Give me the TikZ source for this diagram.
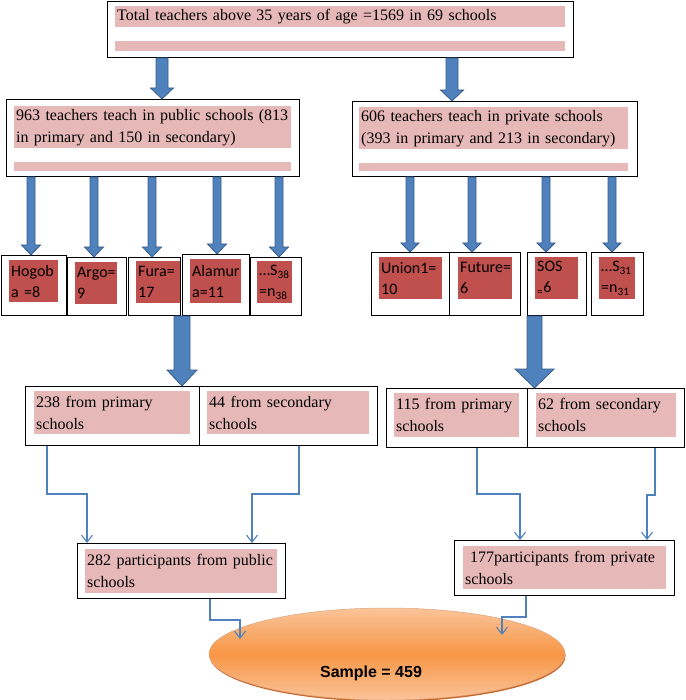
\documentclass[tikz,border=0pt]{standalone}
\usepackage{fontspec}
\setmainfont{Liberation Serif}
\newfontfamily\calibrifont{Carlito}
\newfontfamily\arialfont{Liberation Sans}
\usetikzlibrary{arrows.meta,calc,shapes.geometric,shadows}
\hyphenpenalty=10000
\exhyphenpenalty=10000

\definecolor{pinkfill}{HTML}{E6B8B7}
\definecolor{redfill}{HTML}{C0504D}
\definecolor{arrowblue}{HTML}{4F81BD}
\definecolor{arrowedge}{HTML}{385D8A}
\definecolor{lineblue}{HTML}{4F81BD}
\definecolor{ovallight}{HTML}{FAC49A}
\definecolor{ovalmid}{HTML}{F79646}
\definecolor{ovaledge}{HTML}{C8692A}

\tikzset{
  wh/.code 2 args={\pgfmathsetlengthmacro\whtw{#1pt-4pt}\pgfkeysalso{text width=\whtw,minimum height=#2pt}},
  outerbox/.style 2 args={draw=black,line width=1pt,fill=white,anchor=north west,inner sep=0pt,
    minimum width=#1pt,minimum height=#2pt},
  pinkbar/.style={fill=pinkfill,anchor=north west,align=left,inner xsep=2pt,inner ysep=0pt,
    font=\fontsize{16}{22}\selectfont},
  redbar/.style={fill=redfill,anchor=north west,align=left,inner xsep=2pt,inner ysep=0pt,
    font=\calibrifont\fontsize{16}{21}\selectfont},
  blockarrow/.style n args={3}{draw=arrowedge,fill=arrowblue,line width=0.8pt,line join=miter,
    to path={let \p1=(\tikztostart),\p2=(\tikztotarget) in
      (\x1-#1,\y1) -- (\x1-#1,\y2+#3) -- (\x1-#2,\y2+#3) -- (\x1,\y2)
      -- (\x1+#2,\y2+#3) -- (\x1+#1,\y2+#3) -- (\x1+#1,\y1) -- cycle}},
  thinarrow/.style={draw=lineblue,line width=1.1pt,-{Straight Barb[length=7pt,width=11pt]}},
}

\begin{document}
\begin{tikzpicture}[x=1pt,y=-1pt]
  \useasboundingbox (0,0) rectangle (685,700);

  % x positions of the block arrows
  \coordinate (a1) at (162,0);
  \coordinate (a2) at (452,0);
  \coordinate (c1) at (31,0);
  \coordinate (c2) at (94,0);
  \coordinate (c3) at (152,0);
  \coordinate (c4) at (217,0);
  \coordinate (c5) at (279,0);
  \coordinate (d1) at (410,0);
  \coordinate (d2) at (472,0);
  \coordinate (d3) at (546,0);
  \coordinate (d4) at (612,0);
  \coordinate (b1) at (182,0);
  \coordinate (b2) at (534.5,0);

  % all teachers
  \node[outerbox={466}{56}] (total) at (107,1) {};
  \node[pinkbar,wh={450}{21}] (totalbar) at (115,6) {Total teachers above 35 years of age =1569 in 69 schools};
  \node[pinkbar,wh={450}{10}] (totalstrip) at (115,41) {};

  % public and private
  \node[outerbox={293}{77}] (pub) at (6,99) {};
  \node[pinkbar,wh={277}{42}] (pubbar) at (14,106) {963 teachers teach in public schools (813\\in primary and 150 in secondary)};
  \node[pinkbar,wh={277}{9}] (pubstrip) at (14,162) {};
  \node[outerbox={285}{75}] (priv) at (352,101) {};
  \node[pinkbar,wh={269}{42}] (privbar) at (359,107) {606 teachers teach in private schools\\(393 in primary and 213 in secondary)};
  \node[pinkbar,wh={269}{8}] (privstrip) at (359,163) {};

  % the schools
  \node[outerbox={65}{60}] (hogobbox) at (1,255) {};
  \node[redbar,wh={49}{42}] (hogob) at (9,260) {Hogob\\a =8};
  \node[outerbox={59}{58}] (argobox) at (67,257) {};
  \node[redbar,wh={42}{42}] (argo) at (75,262) {Argo=\\9};
  \node[outerbox={52}{58}] (furabox) at (128,257) {};
  \node[redbar,wh={44}{42}] (fura) at (136,261) {Fura=\\17};
  \node[outerbox={67}{61}] (alamurbox) at (182,254) {};
  \node[redbar,wh={51}{44}] (alamur) at (190,259) {Alamur\\a=11};
  \node[outerbox={51}{58}] (spubbox) at (250,257) {};
  \node[redbar,wh={35}{42}] (spub) at (257,261) {…S\textsubscript{38}\\=n\textsubscript{38}};

  \node[outerbox={78}{63}] (unionbox) at (371,252) {};
  \node[redbar,wh={63}{42}] (union) at (379,257) {Union1=\\10};
  \node[outerbox={71}{63}] (futurebox) at (449,252) {};
  \node[redbar,wh={54}{42}] (future) at (458,257) {Future=\\6};
  \node[outerbox={59}{63}] (sosbox) at (527,252) {};
  \node[redbar,wh={43}{42}] (sos) at (535,257) {SOS\\\textsubscript{=}6};
  \node[outerbox={52}{63}] (sprivbox) at (591,252) {};
  \node[redbar,wh={36}{42}] (spriv) at (599,257) {…S\textsubscript{31}\\=n\textsubscript{31}};

  % primary / secondary
  \node[outerbox={174}{59}] (lpribox) at (25,386) {};
  \node[outerbox={178}{59}] (lsecbox) at (199,386) {};
  \node[pinkbar,wh={156}{43}] (lpri) at (34,391) {238 from primary\\schools};
  \node[pinkbar,wh={162}{43}] (lsec) at (207,391) {44 from secondary\\schools};
  \node[outerbox={141}{59}] (rpribox) at (386,388) {};
  \node[outerbox={157}{59}] (rsecbox) at (527,388) {};
  \node[pinkbar,wh={125}{44}] (rpri) at (394,393) {115 from primary\\schools};
  \node[pinkbar,wh={140}{44}] (rsec) at (536,393) {62 from secondary\\schools};

  % participants
  \node[outerbox={208}{55}] (lpartbox) at (77,543) {};
  \node[pinkbar,wh={192}{44}] (lpart) at (85,549) {282 participants from public\\schools};
  \node[outerbox={220}{55}] (rpartbox) at (454,540) {};
  \node[pinkbar,wh={203}{43}] (rpart) at (463,546) {\hspace*{5pt}177participants from private\\schools};

  % sample
  \node[ellipse,minimum width=356pt,minimum height=92pt,inner sep=0pt,
    top color=ovallight,bottom color=ovallight,middle color=ovalmid,
    draw=ovaledge!60,line width=0.5pt,
    drop shadow={fill=ovaledge,opacity=1,shadow xshift=0.6pt,shadow yshift=-1.6pt}] (sample) at (387,654) {};
  \node[font=\arialfont\bfseries\fontsize{16}{19}\selectfont,anchor=base] (samplelbl) at (371,677) {Sample = 459};

  % block arrows
  \draw[blockarrow={6pt}{11.5pt}{11pt}] (total.south -| a1) to (pub.north -| a1);
  \draw[blockarrow={6pt}{11.5pt}{11pt}] (total.south -| a2) to (priv.north -| a2);
  \foreach \c/\s in {c1/hogobbox,c2/argobox,c3/furabox,c4/alamurbox,c5/spubbox}
    \draw[blockarrow={4pt}{9.5pt}{10pt}] (pub.south -| \c) to (\s.north -| \c);
  \foreach \c/\s in {d1/unionbox,d2/futurebox,d3/sosbox,d4/sprivbox}
    \draw[blockarrow={4pt}{9pt}{9pt}] (priv.south -| \c) to (\s.north -| \c);
  \draw[blockarrow={8pt}{15pt}{16pt}] (furabox.south -| b1) to (lpribox.north -| b1);
  \draw[blockarrow={7.5pt}{19.5pt}{19pt}] (sosbox.south -| b2) to (rsecbox.north -| b2);

  % thin connectors
  \draw[thinarrow] ([xshift=22pt]lpribox.south west) -- ++(0,-48pt) -| ([xshift=10pt]lpartbox.north west);
  \draw[thinarrow] ([xshift=-79pt]lsecbox.south east) -- ++(0,-48pt) -| ([xshift=175pt]lpartbox.north west);
  \draw[thinarrow] ([xshift=91pt]rpribox.south west) -- ++(0,-46pt) -| ([xshift=66pt]rpartbox.north west);
  \draw[thinarrow] ([xshift=128pt]rsecbox.south west) -- ++(0,-47pt) -| ([xshift=193pt]rpartbox.north west);
  \draw[thinarrow] ([xshift=133pt]lpartbox.south west) -- ++(0,-21pt) -| ([xshift=-147pt,yshift=15pt]sample.center);
  \draw[thinarrow] ([xshift=72pt]rpartbox.south west) -- ++(0,-21pt) -| ([xshift=115pt,yshift=19pt]sample.center);
\end{tikzpicture}
\end{document}
